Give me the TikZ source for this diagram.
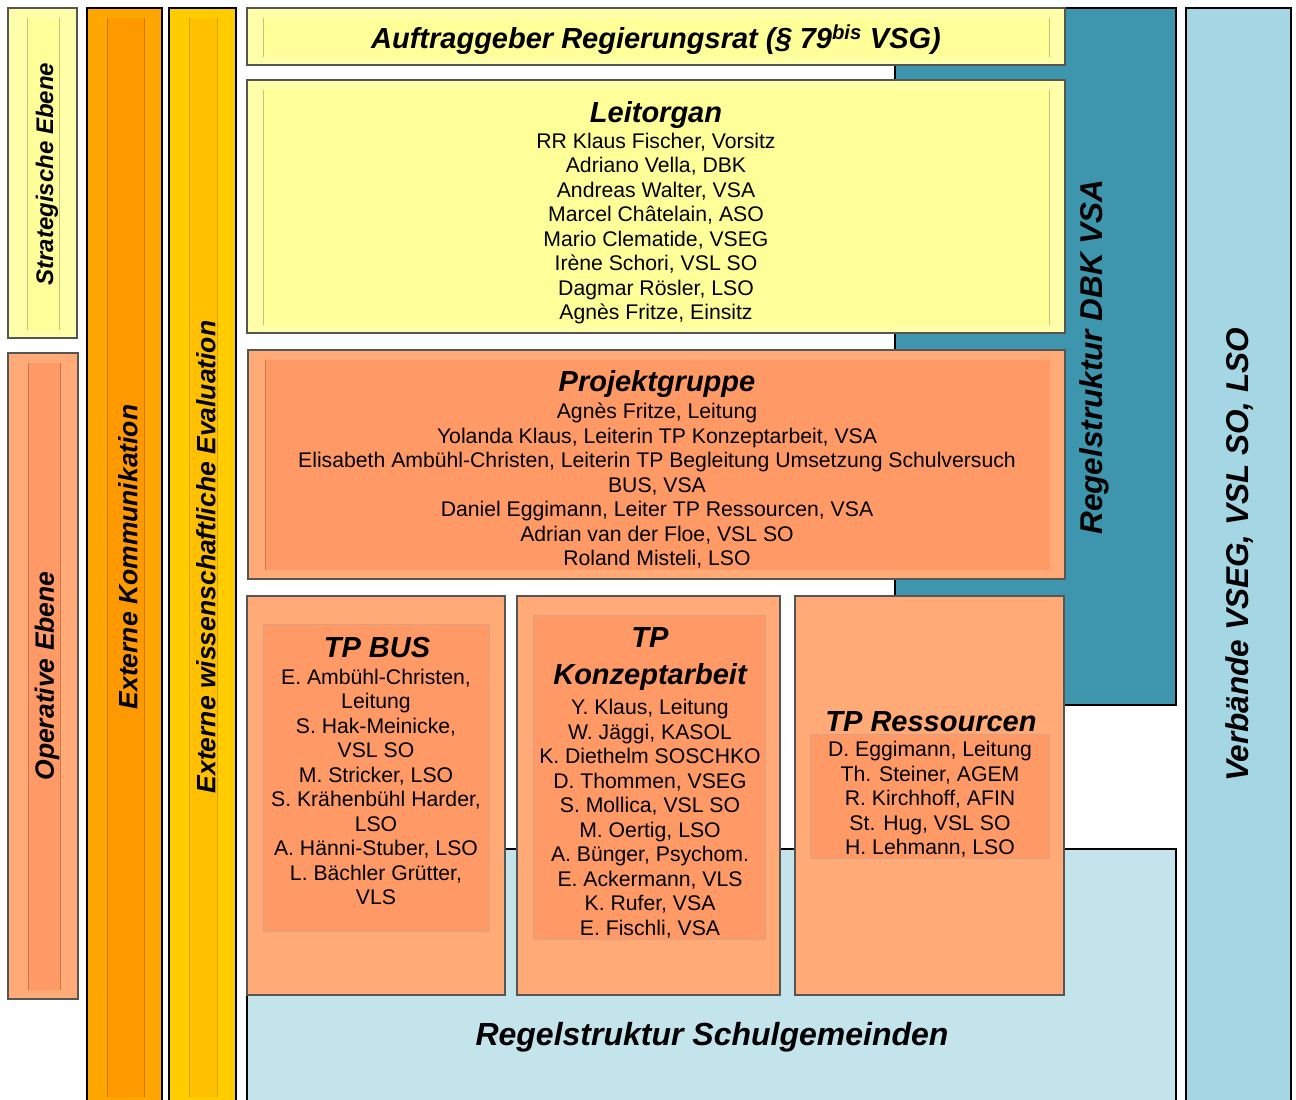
\documentclass[tikz,border=0pt]{standalone}
\usepackage{fontspec}
\setmainfont{Liberation Sans}
\definecolor{yelO}{HTML}{FFFFAA}
\definecolor{yelI}{HTML}{FFFF99}
\definecolor{yelL}{HTML}{C8C07A}
\definecolor{oraO}{HTML}{FFA600}
\definecolor{oraI}{HTML}{FF9900}
\definecolor{oraL}{HTML}{C87800}
\definecolor{golO}{HTML}{FFCC00}
\definecolor{golI}{HTML}{FFC000}
\definecolor{golL}{HTML}{D8A400}
\definecolor{salO}{HTML}{FFAA77}
\definecolor{salI}{HTML}{FF9966}
\definecolor{salL}{HTML}{C87850}
\definecolor{tealC}{HTML}{3D96AD}
\definecolor{verbC}{HTML}{A5D6E4}
\definecolor{schulC}{HTML}{C4E4EC}
\definecolor{edgeG}{HTML}{555555}
\begin{document}
\begin{tikzpicture}[x=1pt,y=-1pt,
  graybox/.style={draw=edgeG, line width=1.3pt},
  blackbox/.style={draw=black, line width=2.2pt},
  sideline/.style={line width=0.9pt},
  title/.style={font=\fontsize{29}{37}\selectfont\bfseries\itshape, align=center, inner sep=0pt},
  names/.style={font=\fontsize{21.2}{24.5}\selectfont, align=center, inner sep=0pt},
  vtitle/.style={rotate=90, font=\bfseries\itshape, inner sep=0pt}]
\useasboundingbox (0,0) rectangle (1296,1100);
% background structures
\draw[blackbox, fill=tealC] (895,8) rectangle (1176,705);
\draw[blackbox, fill=schulC] (247,849) rectangle (1176,1106);
\draw[blackbox, fill=verbC] (1186,8) rectangle (1291,1106);
% left columns
\draw[graybox, fill=yelO] (8,8) rectangle (77,338);
\fill[yelI] (27,18) rectangle (59,330);
\draw[sideline, yelL] (27,18) -- (27,330) (59,18) -- (59,330);
\draw[graybox, fill=salO] (8,353) rectangle (78,999);
\fill[salI] (28,363) rectangle (60,990);
\draw[sideline, salL] (28,363) -- (28,990) (60,363) -- (60,990);
\draw[blackbox, fill=oraO] (87,8) rectangle (162,1106);
\fill[oraI] (107,18) rectangle (144,1097);
\draw[sideline, oraL] (107,18) -- (107,1097) (144,18) -- (144,1097);
\draw[blackbox, fill=golO] (169,8) rectangle (236,1106);
\fill[golI] (189,18) rectangle (217,1097);
\draw[sideline, golL] (189,18) -- (189,1097) (217,18) -- (217,1097);
% Auftraggeber
\draw[graybox, fill=yelO] (247,8) rectangle (1065,65);
\fill[yelI] (263,18) rectangle (1049,57);
\draw[sideline, yelL] (263,18) -- (263,57) (1049,18) -- (1049,57);
% Leitorgan
\draw[graybox, fill=yelO] (247,80) rectangle (1065,333);
\fill[yelI] (263,90) rectangle (1049,325);
\draw[sideline, yelL] (263,90) -- (263,325) (1049,90) -- (1049,325);
% Projektgruppe
\draw[graybox, fill=salO] (248,350) rectangle (1065,579);
\fill[salI] (265,360) rectangle (1050,570);
\draw[sideline, salL] (265,360) -- (265,570);
% TP boxes
\draw[graybox, fill=salO] (247,596) rectangle (505,995);
\draw[sideline, draw=salL!70, fill=salI] (263,624) rectangle (489,931);
\draw[graybox, fill=salO] (517,596) rectangle (780,995);
\draw[sideline, draw=salL!70, fill=salI] (533,615) rectangle (765,939);
\draw[graybox, fill=salO] (795,596) rectangle (1064,995);
\draw[sideline, draw=salL!70, fill=salI] (810,734) rectangle (1049,858);
% texts
\node[title] (auftrag) at (656,40) {Auftraggeber Regierungsrat (§ 79\textsuperscript{bis} VSG)};
\node[title] (leitT) at (656,115) {Leitorgan};
\node[names] (leitN) at (656,228.5) {RR Klaus Fischer, Vorsitz\\Adriano Vella, DBK\\Andreas Walter, VSA\\Marcel Châtelain, ASO\\Mario Clematide, VSEG\\Irène Schori, VSL SO\\Dagmar Rösler, LSO\\Agnès Fritze, Einsitz};
\node[title] (projT) at (657,384) {Projektgruppe};
\node[names] (projN) at (657,486) {Agnès Fritze, Leitung\\Yolanda Klaus, Leiterin TP Konzeptarbeit, VSA\\Elisabeth Ambühl-Christen, Leiterin TP Begleitung Umsetzung Schulversuch\\BUS, VSA\\Daniel Eggimann, Leiter TP Ressourcen, VSA\\Adrian van der Floe, VSL SO\\Roland Misteli, LSO};
\node[title] (busT) at (377,648) {TP BUS};
\node[names] (busN) at (376,787) {E. Ambühl-Christen,\\Leitung\\S. Hak-Meinicke,\\VSL SO\\M. Stricker, LSO\\S. Krähenbühl Harder,\\LSO\\A. Hänni-Stuber, LSO\\L. Bächler Grütter,\\VLS};
\node[title] (konzT) at (650,659) {TP\\Konzeptarbeit};
\node[names] (konzN) at (650,818.5) {Y. Klaus, Leitung\\W. Jäggi, KASOL\\K. Diethelm SOSCHKO\\D. Thommen, VSEG\\S. Mollica, VSL SO\\M. Oertig, LSO\\A. Bünger, Psychom.\\E. Ackermann, VLS\\K. Rufer, VSA\\E. Fischli, VSA};
\node[title] (resT) at (931,722) {TP Ressourcen};
\node[names] (resN) at (930,799.5) {D. Eggimann, Leitung\\Th. Steiner, AGEM\\R. Kirchhoff, AFIN\\St. Hug, VSL SO\\H. Lehmann, LSO};
\node[title, font=\fontsize{32}{37}\selectfont\bfseries\itshape] (schul) at (712,1037) {Regelstruktur Schulgemeinden};
% vertical labels
\node[vtitle, font=\fontsize{24}{28}\selectfont\bfseries\itshape] (strat) at (47,174) {Strategische Ebene};
\node[vtitle, font=\fontsize{26.5}{30}\selectfont\bfseries\itshape] (oper) at (47,676) {Operative Ebene};
\node[vtitle, font=\fontsize{26.5}{30}\selectfont\bfseries\itshape] (extk) at (128,557) {Externe Kommunikation};
\node[vtitle, font=\fontsize{26.5}{30}\selectfont\bfseries\itshape] (exte) at (206,557) {Externe wissenschaftliche Evaluation};
\node[vtitle, font=\fontsize{31.5}{36}\selectfont\bfseries\itshape] (dbk) at (1094,357) {Regelstruktur DBK VSA};
\node[vtitle, font=\fontsize{31.5}{36}\selectfont\bfseries\itshape] (verb) at (1240,555) {Verbände VSEG, VSL SO, LSO};
\end{tikzpicture}
\end{document}
